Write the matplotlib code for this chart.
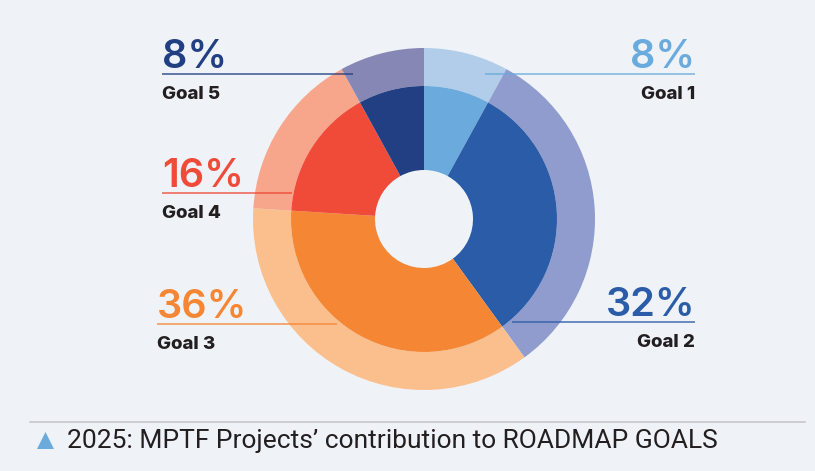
import matplotlib.pyplot as plt
from matplotlib.lines import Line2D

# Share of MPTF projects per roadmap goal (clockwise from 12 o'clock)
goals = ["Goal 1", "Goal 2", "Goal 3", "Goal 4", "Goal 5"]
shares = [8, 32, 36, 16, 8]
inner_colors = ["#6aaadc", "#2b5ca8", "#f58634", "#ef4b38", "#213f82"]
outer_colors = ["#b1cde9", "#8f9ccd", "#fbbf8e", "#f7a68b", "#8787b5"]
label_colors = ["#6aaadc", "#2b5ca8", "#f58634", "#ef4b38", "#213f82"]

BG = "#eff3f8"
W, H = 815, 471

fig = plt.figure(figsize=(W / 100, H / 100), dpi=100, facecolor=BG)
ax = fig.add_axes([0, 0, 1, 1])
ax.set_facecolor(BG)

# pixel coordinates, y measured from the bottom
cx, cy = 424, H - 219
r_out, r_mid, r_hole = 171, 133, 49

ax.pie(shares, radius=r_out, center=(cx, cy), colors=outer_colors,
       startangle=90, counterclock=False,
       wedgeprops={"width": r_out - r_mid, "linewidth": 0})
ax.pie(shares, radius=r_mid, center=(cx, cy), colors=inner_colors,
       startangle=90, counterclock=False,
       wedgeprops={"width": r_mid - r_hole, "linewidth": 0})

ax.set_xlim(0, W)
ax.set_ylim(0, H)
ax.set_aspect("auto")
ax.axis("off")

# label placement: (line x0, line x1, line y, side)
placements = {
    "Goal 1": (485, 695, 74, "right"),
    "Goal 2": (512, 695, 322, "right"),
    "Goal 3": (157, 337, 324, "left"),
    "Goal 4": (162, 292, 193, "left"),
    "Goal 5": (162, 353, 74, "left"),
}

for goal, share, col in zip(goals, shares, label_colors):
    x0, x1, ly, side = placements[goal]
    ax.plot([x0, x1], [H - ly, H - ly], color=col, lw=1.3, alpha=0.75,
            solid_capstyle="butt", zorder=5)
    tx = x0 if side == "left" else x1
    ax.text(tx, H - ly + 6, f"{share}%", color=col, ha=side, va="baseline",
            fontsize=28.5, fontweight="semibold", family="Inter")
    ax.text(tx, H - ly - 12, goal, color="#231f20", ha=side, va="top",
            fontsize=13.5, fontweight="heavy", family="Inter")

# caption area
fig.add_artist(Line2D([30 / W, 805 / W], [1 - 422 / H, 1 - 422 / H],
                      color="#c4c6c9", lw=1.2))
ax.scatter([45], [H - 440], marker="^", s=150, color="#6aaadc", linewidths=0)
ax.text(67, H - 441, "2025: MPTF Projects\u2019 contribution to ROADMAP GOALS",
        color="#231f20", ha="left", va="center", fontsize=19,
        family="Roboto")

fig.savefig("out.png", dpi=100, facecolor=BG)
